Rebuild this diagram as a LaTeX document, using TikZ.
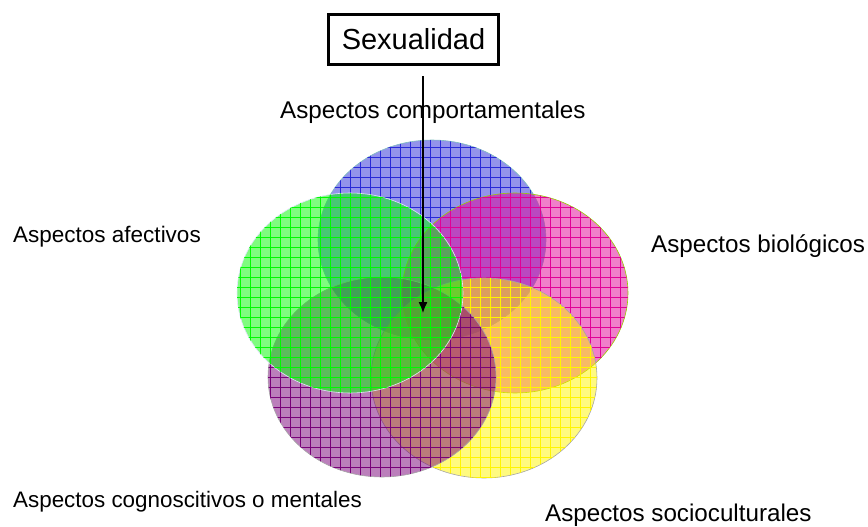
\documentclass[tikz,border=0pt]{standalone}
\usepackage{fontspec}
\setmainfont{Liberation Sans}
\usetikzlibrary{arrows.meta,patterns}

\pgfdeclarepatternformonly{rejilla}{\pgfqpoint{-1pt}{-1pt}}{\pgfqpoint{10pt}{10pt}}{\pgfqpoint{10pt}{10pt}}{%
  \pgfsetlinewidth{0.9pt}
  \pgfpathmoveto{\pgfqpoint{0pt}{0pt}}\pgfpathlineto{\pgfqpoint{0pt}{10.1pt}}
  \pgfpathmoveto{\pgfqpoint{0pt}{0pt}}\pgfpathlineto{\pgfqpoint{10.1pt}{0pt}}
  \pgfusepath{stroke}}

\definecolor{azul}{RGB}{40,40,215}
\definecolor{verde}{RGB}{0,250,0}
\definecolor{rosa}{RGB}{225,0,150}
\definecolor{amarillo}{RGB}{255,245,0}
\definecolor{morado}{RGB}{120,0,120}

\tikzset{
  aspecto/.style={font=\fontsize{#1}{28}\selectfont, anchor=base west, inner sep=0pt},
  aspecto/.default=24.2,
  zona/.style 2 args={fill=#1, fill opacity=0.5, draw=#2, line width=0.6pt,
    postaction={pattern=rejilla, pattern color=#1, fill opacity=0.75}},
  caja/.style={draw, line width=3.2pt, font=\fontsize{29}{35}\selectfont,
    minimum width=170pt, minimum height=50pt, inner sep=0pt}
}

\begin{document}
\begin{tikzpicture}[x=1pt,y=-1pt]
    \useasboundingbox (0,0) rectangle (868,527);
    % circulos
    \path[zona={azul}{teal!50}] (432,240) ellipse [x radius=114, y radius=100];
    \path[zona={rosa}{lime!80!black}] (515,293) ellipse [x radius=113, y radius=100];
    \path[zona={amarillo}{gray!70}] (484,378) ellipse [x radius=113, y radius=100];
    \path[zona={morado}{gray!70}] (382,377) ellipse [x radius=114, y radius=100];
    \path[zona={verde}{blue!10}] (350,293) ellipse [x radius=113, y radius=100];
    % textos
    \node[caja] (sex) at (413.5,39.5) {Sexualidad};
    \node[aspecto] (comp) at (280,118) {Aspectos comportamentales};
    \node[aspecto=22.5] (afec) at (13,242) {Aspectos afectivos};
    \node[aspecto] (bio) at (651,252) {Aspectos biológicos};
    \node[aspecto=22.4] (cogn) at (13,507) {Aspectos cognoscitivos o mentales};
    \node[aspecto] (socio) at (545,521) {Aspectos socioculturales};
    % flecha
    \coordinate (centro) at (423,313);
    \draw[-{Latex[length=11pt,width=9pt]}, line width=1.3pt, shorten <=10pt] (centro |- sex.south) -- (centro);
\end{tikzpicture}
\end{document}
